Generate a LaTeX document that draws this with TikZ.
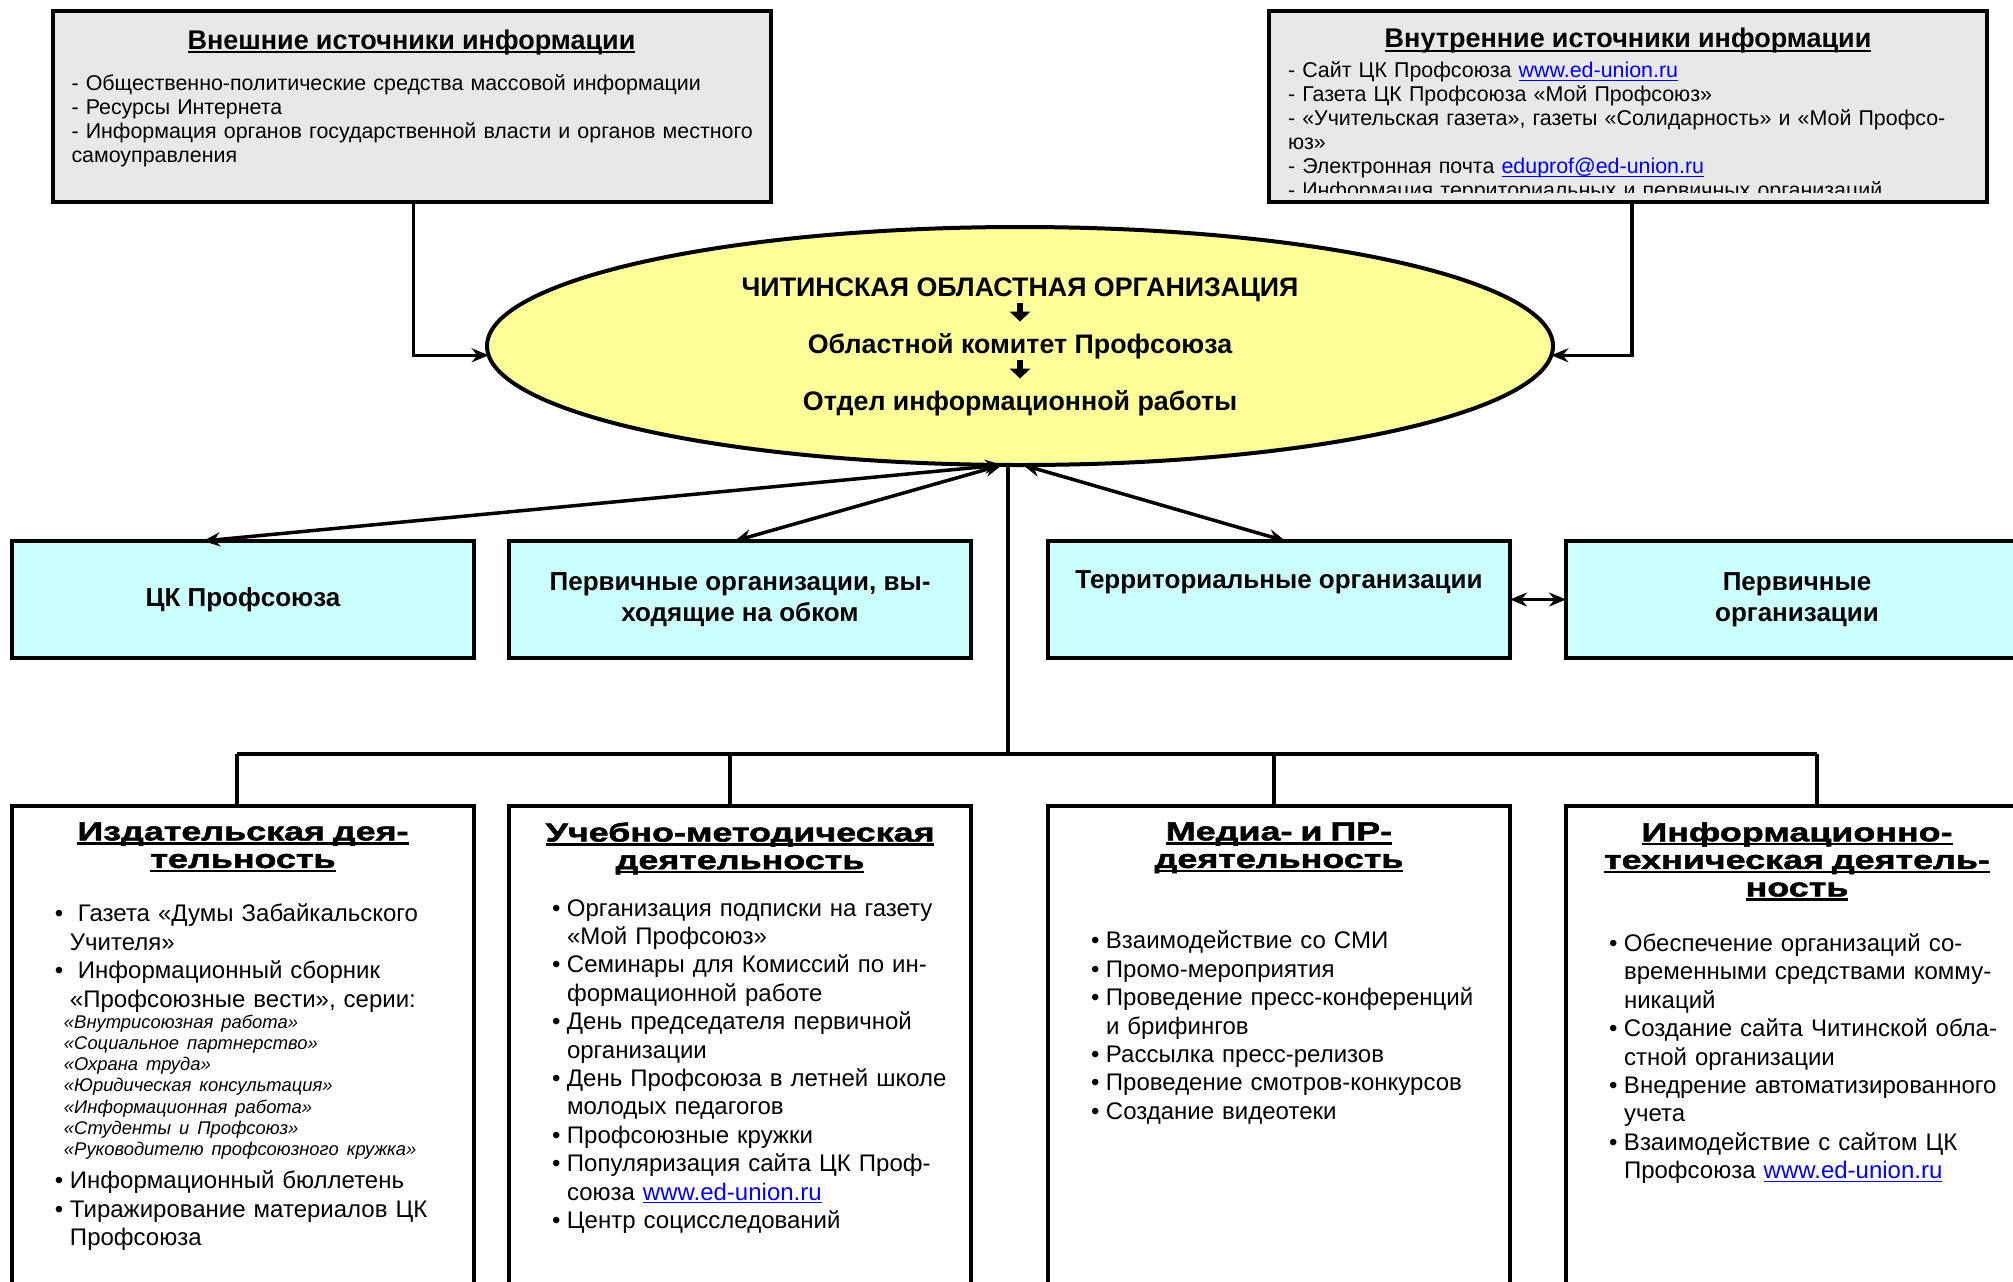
\documentclass[tikz,border=0pt]{standalone}
\usepackage{fontspec}
\setmainfont{Liberation Sans}
\newfontfamily\headfont{Liberation Sans}[FakeStretch=1.38,BoldFeatures={FakeBold=2}]
\usetikzlibrary{calc}
\usetikzlibrary{positioning}
\usetikzlibrary{arrows.meta}
\usetikzlibrary{shapes}

\definecolor{srcgray}{HTML}{E8E8E8}
\definecolor{orgyellow}{HTML}{FFFF99}
\definecolor{unitcyan}{HTML}{CCFFFF}
\definecolor{linkblue}{HTML}{0000FF}

\newcommand\ulin[1]{\leavevmode\sbox0{#1}\rlap{\rule[-2.1pt]{\wd0}{1.2pt}}\usebox0}
\newcommand\weblink[1]{\leavevmode\sbox0{\textcolor{linkblue}{#1}}%
  \rlap{\textcolor{linkblue}{\rule[-1.6pt]{\wd0}{0.6pt}}}\usebox0}
\newcommand\itm{\par\noindent\hangindent=7.5pt\hangafter=1\makebox[7.5pt][l]{\textbullet}}

\begin{document}
\begin{tikzpicture}[x=0.5pt, y=-0.5pt,
    src style/.style={rectangle, draw=black, line width=2pt, fill=srcgray,
      minimum width=359pt, minimum height=95.5pt, inner sep=0pt, outer sep=0pt},
    src text/.style={anchor=north, text width=340pt, inner sep=0pt,
      align=left, font=\fontsize{10.7}{12}\selectfont},
    org style/.style={ellipse, draw=black, line width=2pt, fill=orgyellow,
      minimum width=533pt, minimum height=119pt, inner sep=0pt, outer sep=0pt},
    org text/.style={anchor=base, inner sep=0pt, text height=9.5pt,
      text depth=2.5pt, font=\bfseries\fontsize{13.4}{15}\selectfont},
    unit style/.style={rectangle, draw=black, line width=2pt, fill=unitcyan,
      minimum width=231pt, minimum height=58.5pt, inner sep=0pt,
      outer sep=0pt, align=center, font=\bfseries\fontsize{13}{15.4}\selectfont},
    act style/.style={rectangle, draw=black, line width=2pt, fill=white,
      minimum width=231pt, minimum height=250pt, inner sep=0pt, outer sep=0pt},
    act text/.style={anchor=north, text width=220pt, inner sep=0pt,
      yshift=-8pt, align=left, font=\fontsize{12}{14.2}\selectfont},
    link style/.style={line width=1.75pt, >={Stealth[length=8.5pt,width=7pt]}, <->},
    src link/.style={line width=1.75pt, >={Stealth[length=8.5pt,width=7pt]}, ->},
    bus style/.style={line width=1.75pt},
    kom arrow/.style={line width=3.2pt, -{Triangle[length=5pt,width=10pt]},
      shorten <=1pt, shorten >=6pt}
  ]
  \useasboundingbox (0,0) rectangle (2013,1281);
  \clip (0,0) rectangle (2013,1281);
  \fill[white] (0,0) rectangle (2013,1281);

  % sources of information
  \node[src style] (extsrc) at (411.5,106) {};
  \node[src style] (intsrc) at (1628,106) {};

  \node[src text, yshift=-9.4pt] (exttxt) at (extsrc.north) {%
    {\centering\bfseries\fontsize{13.5}{16}\selectfont
      \ulin{Внешние источники информации}\par}
    \vspace{8.75pt}
    - Общественно-политические средства массовой информации\\
    - Ресурсы Интернета\\
    \mbox{- Информация органов государственной власти и органов местного}\\
    самоуправления\par};

  \begin{scope}
    \clip ($(intsrc.north west)+(2pt,-2pt)$) rectangle ($(intsrc.south east)+(-2pt,4.75pt)$);
    \node[src text, yshift=-8.65pt] (inttxt) at (intsrc.north) {%
      {\centering\bfseries\fontsize{13.5}{16}\selectfont
        \ulin{Внутренние источники информации}\par}
      \vspace{3pt}
      - Сайт ЦК Профсоюза \weblink{www.ed-union.ru}\\
      - Газета ЦК Профсоюза «Мой Профсоюз»\\
      - «Учительская газета», газеты «Солидарность» и «Мой Профсо-\\
      юз»\\
      - Электронная почта \weblink{eduprof@ed-union.ru}\\
      - Информация территориальных и первичных организаций\par};
  \end{scope}

  % regional organisation
  \node[org style] (org) at (1020,346) {};
  \node[org text] (orgreg) at (1020,296) {ЧИТИНСКАЯ ОБЛАСТНАЯ ОРГАНИЗАЦИЯ};
  \node[org text] (orgkom) at (1020,353) {Областной комитет Профсоюза};
  \node[org text] (orgdept) at (1020,410) {Отдел информационной работы};

  \draw[kom arrow] (orgreg) -- (orgkom);
  \draw[kom arrow] (orgkom) -- (orgdept);

  \draw[src link] ($(extsrc.south)+(1pt,0)$) |- (org.181.7);
  \draw[src link] ($(intsrc.south)+(2pt,0)$) |- (org.-1.7);

  % partner organisations
  \node[unit style] (ctk) at (243,599.5) {ЦК Профсоюза};
  \node[unit style, right=17.5pt of ctk] (obkom) {Первичные организации, вы-\\ходящие на обком};
  \node[unit style, right=38.5pt of obkom] (terr) {Территориальные организации\\\strut};
  \node[unit style, right=28pt of terr] (prim) {Первичные\\организации};

  \coordinate (orgL) at ($(org.south)+(-9pt,0)$);
  \coordinate (orgR) at ($(org.south)+(1.5pt,0)$);
  \draw[link style] (orgL) -- ($(ctk.north)+(-20pt,0)$);
  \draw[link style] (orgL) -- ($(obkom.north)+(-2.75pt,0)$);
  \draw[link style] (orgR) -- ($(terr.north)+(3.25pt,0)$);
  \draw[link style] (terr) -- (prim);

  % activities
  \node[act style, below=74pt of ctk] (publ) {};
  \node[act style, below=74pt of obkom] (metod) {};
  \node[act style, below=74pt of terr] (media) {};
  \node[act style, below=74pt of prim] (itech) {};

  \coordinate (hub) at (1008,754);
  \coordinate (bus1) at (237,754);
  \coordinate (bus2) at (730,754);
  \coordinate (bus3) at (1274,754);
  \coordinate (bus4) at (1817,754);
  \draw[bus style] (org.south -| hub) -- (hub);
  \draw[bus style] (bus1) -- (bus4);
  \draw[bus style] (bus1) -- (bus1 |- publ.north);
  \draw[bus style] (bus2) -- (bus2 |- metod.north);
  \draw[bus style] (bus3) -- (bus3 |- media.north);
  \draw[bus style] (bus4) -- (bus4 |- itech.north);

  \node[act text] (publtxt) at (publ.north) {%
    {\centering\headfont\bfseries\fontsize{13}{13.8}\selectfont
      \ulin{Издательская дея-}\\\ulin{тельность}\par}
    \vspace{12.8pt}\leftskip=16pt
    \itm\ Газета «Думы Забайкальского\newline Учителя»
    \itm\ Информационный сборник\newline «Профсоюзные вести», серии:
    \par{\itshape\fontsize{9.2}{10.6}\selectfont\advance\leftskip 4.5pt
      «Внутрисоюзная работа»\newline
      «Социальное партнерство»\newline
      «Охрана труда»\newline
      «Юридическая консультация»\newline
      «Информационная работа»\newline
      «Студенты и Профсоюз»\newline
      «Руководителю профсоюзного кружка»\par}
    \vspace{2.5pt}
    \itm Информационный бюллетень
    \itm Тиражирование материалов ЦК\newline Профсоюза\par};

  \node[act text] (metodtxt) at (metod.north) {%
    {\centering\headfont\bfseries\fontsize{13}{13.8}\selectfont
      \ulin{Учебно-методическая}\\\ulin{деятельность}\par}
    \vspace{9.3pt}\leftskip=16pt
    \itm Организация подписки на газету\newline «Мой Профсоюз»
    \itm Семинары для Комиссий по ин-\newline формационной работе
    \itm День председателя первичной\newline организации
    \itm День Профсоюза в летней школе\newline молодых педагогов
    \itm Профсоюзные кружки
    \itm Популяризация сайта ЦК Проф-\newline союза \weblink{www.ed-union.ru}
    \itm Центр социсследований\par};

  \node[act text] (mediatxt) at (media.north) {%
    {\centering\headfont\bfseries\fontsize{13}{13.8}\selectfont
      \ulin{Медиа- и ПР-}\\\ulin{деятельность}\par}
    \vspace{26.3pt}\leftskip=16pt
    \itm Взаимодействие со СМИ
    \itm Промо-мероприятия
    \itm Проведение пресс-конференций\newline и брифингов
    \itm Рассылка пресс-релизов
    \itm Проведение смотров-конкурсов
    \itm Создание видеотеки\par};

  \node[act text] (itechtxt) at (itech.north) {%
    {\centering\headfont\bfseries\fontsize{13}{13.8}\selectfont
      \ulin{Информационно-}\\\ulin{техническая деятель-}\\\ulin{ность}\par}
    \vspace{13.3pt}\leftskip=16pt
    \itm Обеспечение организаций со-\newline временными средствами комму-\newline никаций
    \itm Создание сайта Читинской обла-\newline стной организации
    \itm Внедрение автоматизированного\newline учета
    \itm Взаимодействие с сайтом ЦК\newline Профсоюза \weblink{www.ed-union.ru}\par};

\end{tikzpicture}
\end{document}
